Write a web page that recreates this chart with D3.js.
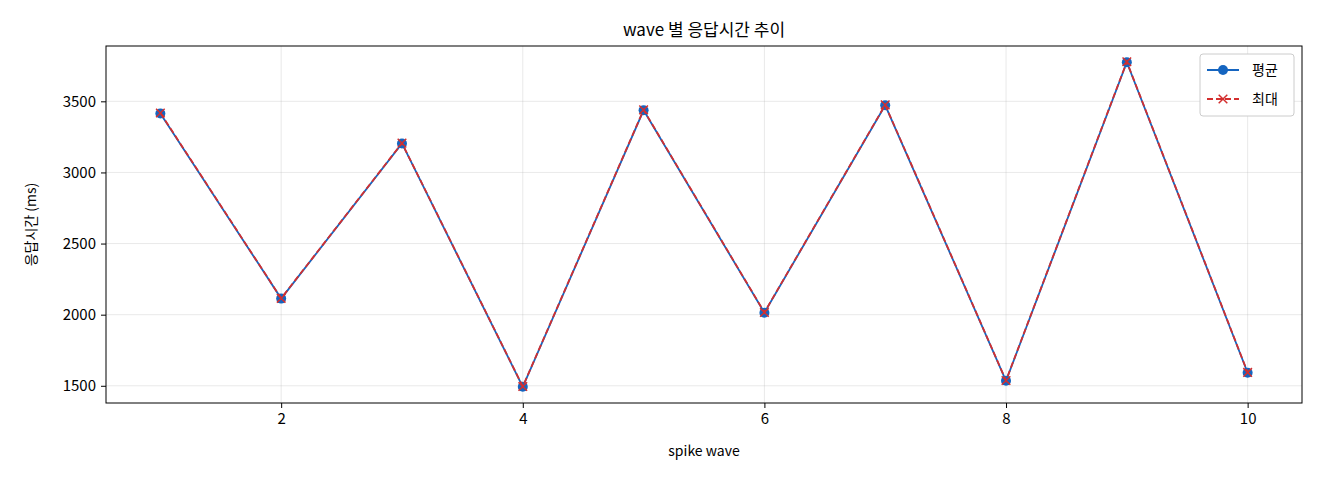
<!DOCTYPE html>
<html><head><meta charset="utf-8">
<script src="https://cdn.jsdelivr.net/npm/d3@7/dist/d3.min.js"></script>
<style>body{margin:0;background:#fff;font-family:"Noto Sans CJK KR","Noto Sans",sans-serif}</style>
</head><body><svg id="c" width="1320" height="480"></svg>
<script>
const waves = [1,2,3,4,5,6,7,8,9,10];
const avgValues = [3415,2113,3204,1493,3437,2014,3472,1535,3775,1592];
const maxValues = [3418,2115,3206,1495,3440,2016,3475,1537,3778,1594];
const xTicks = [2,4,6,8,10];
const yTicks = [1500,2000,2500,3000,3500];

const svg = d3.select("#c");
const L=106,R=1302,T=46,B=403;
const x = d3.scaleLinear().domain([0.55,10.45]).range([L,R]);
const y = d3.scaleLinear().domain([1379,3889]).range([B,T]);
const font = '"Noto Sans CJK KR","Noto Sans",sans-serif';

svg.append("g").selectAll("line").data(xTicks).join("line")
 .attr("x1",d=>x(d)).attr("x2",d=>x(d)).attr("y1",T).attr("y2",B)
 .attr("stroke","#b0b0b0").attr("stroke-opacity",0.35).attr("stroke-width",0.8);
svg.append("g").selectAll("line").data(yTicks).join("line")
 .attr("y1",d=>y(d)).attr("y2",d=>y(d)).attr("x1",L).attr("x2",R)
 .attr("stroke","#b0b0b0").attr("stroke-opacity",0.35).attr("stroke-width",0.8);

const xa = svg.append("g").attr("transform",`translate(0,${B})`)
 .call(d3.axisBottom(x).tickValues(xTicks).tickFormat(d3.format("d")).tickSize(5).tickPadding(5));
const ya = svg.append("g").attr("transform",`translate(${L},0)`)
 .call(d3.axisLeft(y).tickValues(yTicks).tickFormat(d3.format("d")).tickSize(5).tickPadding(5));
[xa,ya].forEach(a=>{a.select(".domain").remove();a.selectAll("text").attr("font-size",15).attr("font-family",font).attr("fill","#000");a.selectAll("line").attr("stroke","#000");});
svg.append("rect").attr("x",L).attr("y",T).attr("width",R-L).attr("height",B-T).attr("fill","none").attr("stroke","#000").attr("stroke-width",1);

const line = d3.line().x((d,i)=>x(waves[i])).y(d=>y(d));
svg.append("path").datum(avgValues).attr("d",line).attr("fill","none").attr("stroke","#1565c0").attr("stroke-width",1.8);
svg.append("g").selectAll("circle").data(avgValues).join("circle")
 .attr("cx",(d,i)=>x(waves[i])).attr("cy",d=>y(d)).attr("r",5).attr("fill","#1565c0");
svg.append("path").datum(maxValues).attr("d",line).attr("fill","none").attr("stroke","#d32f2f").attr("stroke-width",1.8).attr("stroke-dasharray","6,3");
const cross = d3.symbol().type(d3.symbolX).size(50);
svg.append("g").selectAll("path").data(maxValues).join("path")
 .attr("d",cross).attr("transform",(d,i)=>`translate(${x(waves[i])},${y(d)})`)
 .attr("fill","none").attr("stroke","#d32f2f").attr("stroke-width",1.5);

svg.append("text").attr("x",(L+R)/2).attr("y",36).attr("text-anchor","middle").attr("font-size",17).attr("font-family",font).text("wave 별 응답시간 추이");
svg.append("text").attr("x",(L+R)/2).attr("y",456).attr("text-anchor","middle").attr("font-size",14).attr("font-family",font).text("spike wave");
svg.append("text").attr("transform",`translate(36,${(T+B)/2}) rotate(-90)`).attr("text-anchor","middle").attr("font-size",14).attr("font-family",font).text("응답시간 (ms)");

const lg = svg.append("g");
lg.append("rect").attr("x",1200).attr("y",54).attr("width",94).attr("height",62).attr("rx",3).attr("fill","#fff").attr("stroke","#ccc");
lg.append("line").attr("x1",1207).attr("x2",1239).attr("y1",70).attr("y2",70).attr("stroke","#1565c0").attr("stroke-width",2);
lg.append("circle").attr("cx",1223).attr("cy",70).attr("r",5).attr("fill","#1565c0");
lg.append("line").attr("x1",1207).attr("x2",1239).attr("y1",99).attr("y2",99).attr("stroke","#d32f2f").attr("stroke-width",2).attr("stroke-dasharray","6,3");
lg.append("path").attr("d",cross).attr("transform","translate(1223,99)").attr("fill","none").attr("stroke","#d32f2f").attr("stroke-width",1.5);
lg.append("text").attr("x",1252).attr("y",75).attr("font-size",14).attr("font-family",font).text("평균");
lg.append("text").attr("x",1252).attr("y",104).attr("font-size",14).attr("font-family",font).text("최대");
</script></body></html>
